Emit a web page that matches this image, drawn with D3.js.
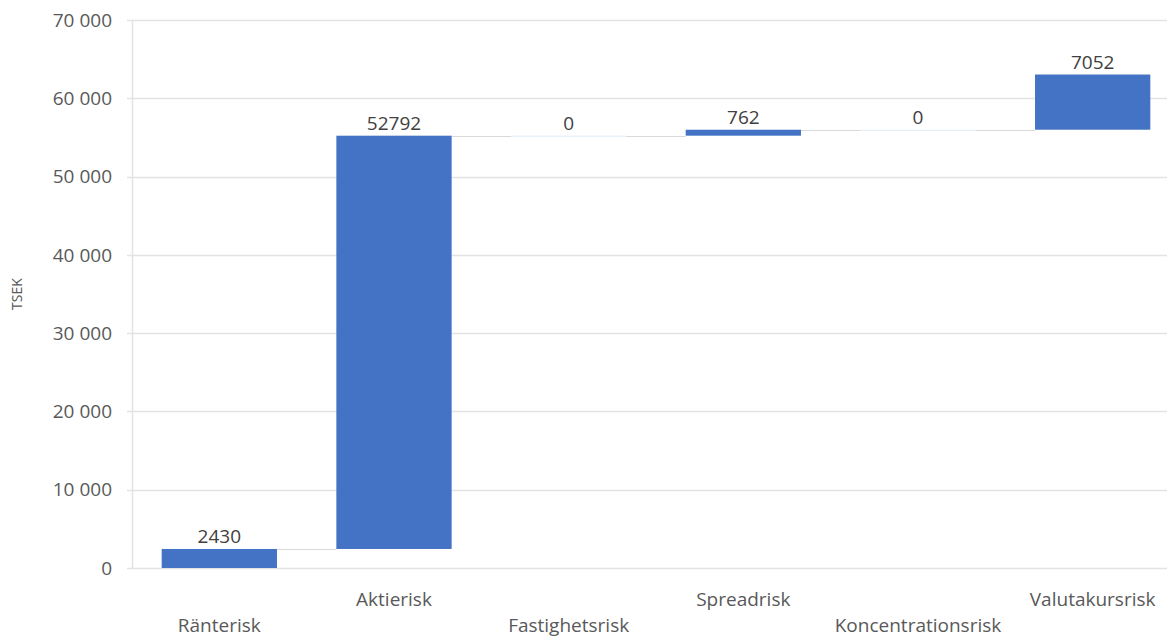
<!DOCTYPE html>
<html>
<head>
<meta charset="utf-8">
<script src="https://cdn.jsdelivr.net/npm/d3@7"></script>
<style>
  body { margin: 0; background: #fff; }
  svg { display: block; font-family: "Open Sans", sans-serif; }
</style>
</head>
<body>
<svg id="chart" width="1167" height="638"></svg>
<script>
// waterfall data
const categories = ["Ränterisk", "Aktierisk", "Fastighetsrisk", "Spreadrisk", "Koncentrationsrisk", "Valutakursrisk"];
const values = [2430, 52792, 0, 762, 0, 7052];
const yTicks = [0, 10000, 20000, 30000, 40000, 50000, 60000, 70000];

const width = 1167,
  height = 638,
  margin = { top: 20, right: -13, bottom: 70, left: 132 },
  fontSize = 19;

const svg = d3.select("#chart");

// running totals
let run = 0;
const steps = categories.map((c, i) => {
  const start = run;
  run += values[i];
  return { name: c, value: values[i], start: start, end: run, i: i };
});

const x = d3.scaleBand()
  .domain(categories)
  .range([margin.left, width - margin.right])
  .paddingInner(0.34)
  .paddingOuter(0.17);

const y = d3.scaleLinear()
  .domain([0, 70000])
  .range([height - margin.bottom, margin.top]);

const fmt = d => d3.format(",")(d).replace(/,/g, " ");

// gridlines
svg.append("g")
  .selectAll("line")
  .data(yTicks)
  .join("line")
  .attr("x1", margin.left - 5)
  .attr("x2", width)
  .attr("y1", d => Math.round(y(d)) + 0.5)
  .attr("y2", d => Math.round(y(d)) + 0.5)
  .attr("stroke", "#e3e3e3")
  .attr("stroke-width", 1.5);

// left axis line
svg.append("line")
  .attr("x1", margin.left + 0.5)
  .attr("x2", margin.left + 0.5)
  .attr("y1", y(70000))
  .attr("y2", y(0))
  .attr("stroke", "#e3e3e3")
  .attr("stroke-width", 1.5);

// y tick labels
svg.append("g")
  .selectAll("text")
  .data(yTicks)
  .join("text")
  .attr("x", 112)
  .attr("y", d => y(d))
  .attr("dy", "0.35em")
  .attr("text-anchor", "end")
  .attr("fill", "#595959")
  .style("font-size", fontSize + "px")
  .text(fmt);

// axis title
svg.append("text")
  .attr("transform", "translate(22," + y(35000) + ") rotate(-90)")
  .attr("text-anchor", "middle")
  .attr("fill", "#595959")
  .style("font-size", "14px")
  .text("TSEK");

// connector lines
svg.append("g")
  .selectAll("line")
  .data(steps.slice(0, -1))
  .join("line")
  .attr("x1", d => x(d.name) + x.bandwidth())
  .attr("x2", d => x(categories[d.i + 1]))
  .attr("y1", d => Math.round(y(d.end)) + 0.5)
  .attr("y2", d => Math.round(y(d.end)) + 0.5)
  .attr("stroke", "#d9d9d9")
  .attr("stroke-width", 1);

// bars
svg.append("g")
  .selectAll("rect")
  .data(steps)
  .join("rect")
  .attr("x", d => x(d.name))
  .attr("width", x.bandwidth())
  .attr("y", d => y(Math.max(d.start, d.end)))
  .attr("height", d => Math.max(Math.abs(y(d.start) - y(d.end)), d.value === 0 ? 1 : 0))
  .attr("fill", d => d.value === 0 ? "#deebf7" : "#4472c4");

// value labels
svg.append("g")
  .selectAll("text")
  .data(steps)
  .join("text")
  .attr("x", d => x(d.name) + x.bandwidth() / 2)
  .attr("y", d => y(d.end) - 6)
  .attr("text-anchor", "middle")
  .attr("fill", "#404040")
  .style("font-size", fontSize + "px")
  .text(d => d.value);

// category labels, staggered
svg.append("g")
  .selectAll("text")
  .data(steps)
  .join("text")
  .attr("x", d => x(d.name) + x.bandwidth() / 2)
  .attr("y", d => d.i % 2 === 0 ? 632 : 606)
  .attr("text-anchor", "middle")
  .attr("fill", "#595959")
  .style("font-size", fontSize + "px")
  .text(d => d.name);
</script>
</body>
</html>
